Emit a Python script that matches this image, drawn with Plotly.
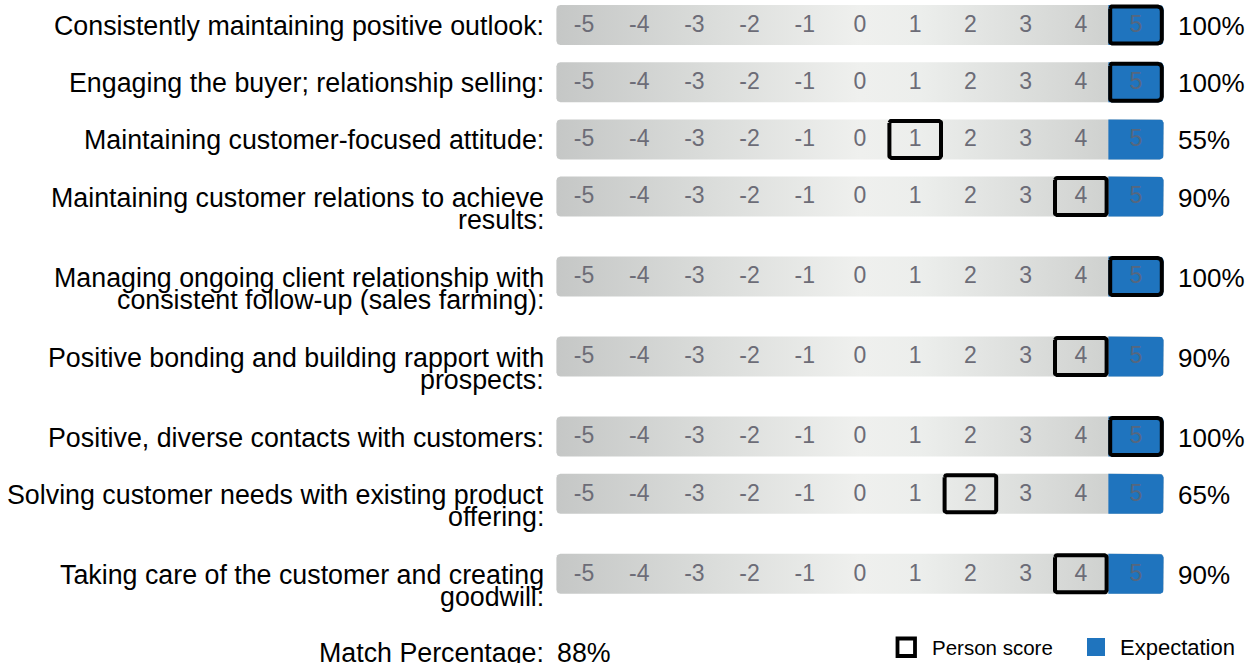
import plotly.graph_objects as go
import numpy as np

# ---------------- data ----------------
scale_values = list(range(-5, 6))
competency_labels = [
    ["Consistently maintaining positive outlook:"],
    ["Engaging the buyer; relationship selling:"],
    ["Maintaining customer-focused attitude:"],
    ["Maintaining customer relations to achieve", "results:"],
    ["Managing ongoing client relationship with", "consistent follow-up (sales farming):"],
    ["Positive bonding and building rapport with", "prospects:"],
    ["Positive, diverse contacts with customers:"],
    ["Solving customer needs with existing product", "offering:"],
    ["Taking care of the customer and creating", "goodwill:"],
]
person_scores = [5, 5, 1, 4, 5, 4, 5, 2, 4]
expectations = [5, 5, 5, 5, 5, 5, 5, 5, 5]
match_percent = [100, 100, 55, 90, 100, 90, 100, 65, 90]
overall_match = 88
legend_names = ["Person score", "Expectation"]

# ---------------- layout constants ----------------
W, H = 1251, 663
FONT = "Arial, Liberation Sans, Helvetica, sans-serif"
cell_px = 55.2
bar_left_px = 556.4
x0 = scale_values[0] - 0.5 - bar_left_px / cell_px
x1 = x0 + W / cell_px
bar_h = 40
top0 = 5
single_step = 57.2
extra_line = 22.8
label_right_px = 546
LABEL_SIZE = 26.8
BLUE = "#1f74be"
NUM_GRAY = "#6c6c77"

# row tops computed from label line counts
tops = []
t = top0
for lines in competency_labels:
    tops.append(t)
    t += single_step + extra_line * (len(lines) - 1)
centers = [tp + bar_h / 2 for tp in tops]


def rounded_rect(xa, xb, ya, yb, r_tl, r_tr, r_br, r_bl, n=8):
    """closed path in data coords; radii in pixels"""
    xs, ys = [], []

    def arc(cx, cy, r, a0, a1):
        for a in np.linspace(a0, a1, n):
            xs.append(cx + r / cell_px * np.cos(a))
            ys.append(cy + r * np.sin(a))
    if r_tl:
        arc(xa + r_tl / cell_px, ya + r_tl, r_tl, np.pi, 1.5 * np.pi)
    else:
        xs.append(xa); ys.append(ya)
    if r_tr:
        arc(xb - r_tr / cell_px, ya + r_tr, r_tr, 1.5 * np.pi, 2 * np.pi)
    else:
        xs.append(xb); ys.append(ya)
    if r_br:
        arc(xb - r_br / cell_px, yb - r_br, r_br, 0, 0.5 * np.pi)
    else:
        xs.append(xb); ys.append(yb)
    if r_bl:
        arc(xa + r_bl / cell_px, yb - r_bl, r_bl, 0.5 * np.pi, np.pi)
    else:
        xs.append(xa); ys.append(yb)
    xs.append(xs[0]); ys.append(ys[0])
    return xs, ys


fig = go.Figure()
lo, hi = scale_values[0] - 0.5, scale_values[-1] + 0.5
grad = [[0, "#c5c7c6"], [0.25, "#dadcda"], [0.5, "#eff0ee"], [0.6, "#eceeec"],
        [0.9, "#d0d2d0"], [1, "#cccecc"]]

annotations = []
for i, lines in enumerate(competency_labels):
    ya, yb = tops[i], tops[i] + bar_h
    cy = centers[i]
    # gray gradient bar
    xs, ys = rounded_rect(lo, hi, ya, yb, 4, 4, 4, 4)
    fig.add_trace(go.Scatter(x=xs, y=ys, mode="lines", fill="toself",
                             line=dict(width=0, color="rgba(0,0,0,0)"),
                             fillgradient=dict(type="horizontal", colorscale=grad,
                                               start=lo, stop=hi),
                             hoverinfo="skip", showlegend=False))
    # expectation cell
    e = expectations[i]
    last = e == scale_values[-1]
    xs, ys = rounded_rect(e - 0.5, e + 0.5, ya, yb, 0, 4 if last else 0,
                          4 if last else 0, 0)
    fig.add_trace(go.Scatter(x=xs, y=ys, mode="lines", fill="toself", fillcolor=BLUE,
                             line=dict(width=0, color=BLUE), hoverinfo="skip",
                             showlegend=False))
    # numbers
    fig.add_trace(go.Scatter(x=scale_values, y=[cy + 1] * len(scale_values), mode="text",
                             text=[str(v) for v in scale_values],
                             textfont=dict(family=FONT, size=23,
                                           color=["#56677e" if v == e else NUM_GRAY
                                                  for v in scale_values]),
                             hoverinfo="skip", showlegend=False))
    # person score box
    p = person_scores[i]
    pl = p == scale_values[-1]
    xs, ys = rounded_rect(p - 0.5 + 1.8 / cell_px, p + 0.5 - 1.8 / cell_px,
                          ya + 1.5, yb - 1.5, 2, 4 if pl else 2, 4 if pl else 2, 2)
    fig.add_trace(go.Scatter(x=xs, y=ys, mode="lines",
                             line=dict(width=4, color="black"),
                             hoverinfo="skip", showlegend=False))
    # labels
    for j, ln in enumerate(lines):
        annotations.append(dict(x=label_right_px / W, xref="paper", y=cy + 1 + j * 22.5,
                                yref="y", text=ln, showarrow=False, xanchor="right",
                                yanchor="middle",
                                font=dict(family=FONT, size=LABEL_SIZE, color="black")))
    annotations.append(dict(x=1176 / W, xref="paper", y=cy + 1, yref="y",
                            text=f"{match_percent[i]}%", showarrow=False,
                            xanchor="left", yanchor="middle",
                            font=dict(family=FONT, size=26, color="black")))

# overall match
annotations.append(dict(x=label_right_px / W, xref="paper", y=653, yref="y",
                        text="Match Percentage:", showarrow=False, xanchor="right",
                        yanchor="middle", font=dict(family=FONT, size=LABEL_SIZE, color="black")))
annotations.append(dict(x=555 / W, xref="paper", y=653, yref="y",
                        text=f"{overall_match}%", showarrow=False, xanchor="left",
                        yanchor="middle", font=dict(family=FONT, size=LABEL_SIZE, color="black")))

# legend
shapes = [
    dict(type="rect", xref="paper", yref="y", x0=897.5 / W, x1=915 / W, y0=638.5, y1=656,
         line=dict(color="black", width=3.8), fillcolor="white"),
    dict(type="rect", xref="paper", yref="y", x0=1087 / W, x1=1105 / W, y0=638, y1=656,
         line=dict(width=0), fillcolor=BLUE),
]
annotations.append(dict(x=930 / W, xref="paper", y=647, yref="y", text=legend_names[0],
                        showarrow=False, xanchor="left", yanchor="middle",
                        font=dict(family=FONT, size=20.5, color="black")))
annotations.append(dict(x=1118 / W, xref="paper", y=647, yref="y", text=legend_names[1],
                        showarrow=False, xanchor="left", yanchor="middle",
                        font=dict(family=FONT, size=22, color="black")))

fig.update_layout(
    width=W, height=H, margin=dict(l=0, r=0, t=0, b=0),
    paper_bgcolor="white", plot_bgcolor="white",
    xaxis=dict(range=[x0, x1], visible=False, fixedrange=True),
    yaxis=dict(range=[H, 0], visible=False, fixedrange=True),
    annotations=annotations, shapes=shapes, showlegend=False,
)
fig.write_html("out.html", config={"displayModeBar": False},
               post_script="document.body.style.margin='0';document.body.style.overflow='hidden';")
